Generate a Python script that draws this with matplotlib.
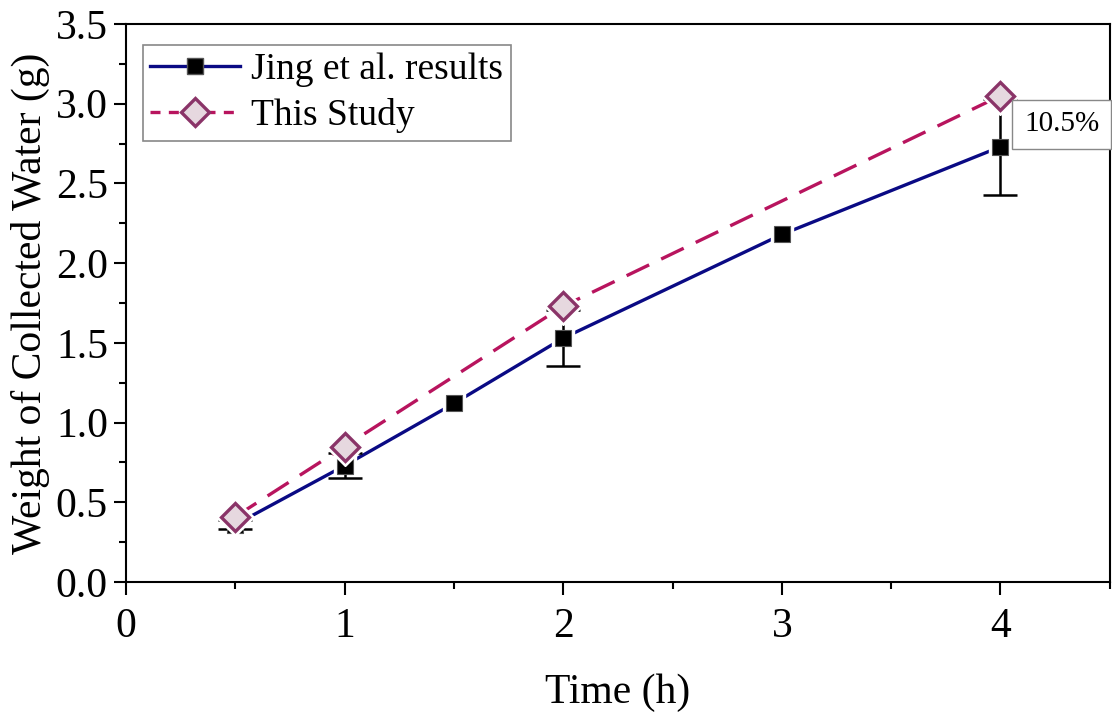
import matplotlib as mpl
import matplotlib.pyplot as plt
import numpy as np
from matplotlib.ticker import MultipleLocator

# values
jing_time = [0.5, 1.0, 1.5, 2.0, 3.0, 4.0]
jing_weight = [0.36, 0.73, 1.12, 1.53, 2.18, 2.73]
err_time = [0.5, 1.0, 2.0, 4.0]
err_weight = [0.36, 0.73, 1.53, 2.73]
err_size = [0.03, 0.08, 0.175, 0.30]

study_time = [0.5, 1.0, 2.0, 4.0]
study_weight = [0.41, 0.85, 1.73, 3.05]

note_text = "10.5%"
note_pos = (4.28, 2.87)

NAVY = "#0A0A84"
CRIMSON = "#B8145E"
DIAMOND_EDGE = "#8A3468"
DIAMOND_FACE = "#E6D8DF"

mpl.rcParams.update(
    {
        "font.family": ["Liberation Serif", "DejaVu Serif"],
        "mathtext.fontset": "stix",
        "axes.linewidth": 1.5,
    }
)

fig = plt.figure(figsize=(11.12, 7.13), dpi=100)
ax = fig.add_axes((0.1133, 0.1837, 0.8847, 0.7826))

# Jing et al.
ax.plot(jing_time, jing_weight, color=NAVY, linewidth=2.4, zorder=2)
ax.plot(jing_time, jing_weight, linestyle="none", marker="s", markersize=16,
        color="white", zorder=3)
ax.errorbar(err_time, err_weight, yerr=err_size, fmt="none", ecolor="black",
            elinewidth=1.8, capsize=12.5, capthick=1.8, zorder=4)
ax.plot(jing_time, jing_weight, linestyle="none", marker="s", markersize=12,
        markerfacecolor="black", markeredgecolor="#555555", markeredgewidth=0.8,
        zorder=5)

# This study
ax.plot(study_time, study_weight, color=CRIMSON, linewidth=2.4,
        dashes=(7.5, 4), zorder=6)
ax.plot(study_time, study_weight, linestyle="none", marker="D", markersize=19,
        color="white", zorder=7)
ax.plot(study_time, study_weight, linestyle="none", marker="D", markersize=14,
        markerfacecolor=DIAMOND_FACE, markeredgecolor=DIAMOND_EDGE,
        markeredgewidth=2.4, zorder=8)

# legend proxies
jing_handle = mpl.lines.Line2D([], [], color=NAVY, linewidth=2.4, marker="s",
                               markersize=12, markerfacecolor="black",
                               markeredgecolor="#555555")
study_handle = mpl.lines.Line2D([], [], color=CRIMSON, linewidth=2.4,
                                dashes=(3, 2.5), marker="D", markersize=14,
                                markerfacecolor=DIAMOND_FACE,
                                markeredgecolor=DIAMOND_EDGE,
                                markeredgewidth=2.4)
legend = ax.legend(
    [jing_handle, study_handle],
    ["Jing et al. results", "This Study"],
    loc="upper left",
    bbox_to_anchor=(0.017, 0.962),
    fontsize=27,
    handlelength=2.4,
    handletextpad=0.3,
    labelspacing=0.3,
    borderpad=0.2,
    borderaxespad=0.0,
    fancybox=False,
    framealpha=1,
    edgecolor="#888888",
)
legend.get_frame().set_linewidth(1.2)

ax.text(
    note_pos[0], note_pos[1], note_text,
    ha="center", va="center", fontsize=21,
    bbox=dict(boxstyle="square,pad=0.4", facecolor="white",
              edgecolor="#888888", linewidth=1.0),
    zorder=9,
)

ax.set_xlim(0, 4.5)
ax.set_ylim(0, 3.5)
ax.xaxis.set_major_locator(MultipleLocator(1))
ax.xaxis.set_minor_locator(MultipleLocator(0.5))
ax.yaxis.set_major_locator(MultipleLocator(0.5))
ax.yaxis.set_minor_locator(MultipleLocator(0.25))
ax.yaxis.set_major_formatter(mpl.ticker.FormatStrFormatter("%.1f"))
ax.tick_params(which="major", direction="out", length=9, width=1.5,
               labelsize=30, top=False, right=False)
ax.tick_params(axis="x", which="major", pad=9)
ax.tick_params(axis="y", which="major", pad=4)
ax.tick_params(which="minor", direction="out", length=5, width=1.5,
               top=False, right=False)

ax.set_xlabel("Time (h)", fontsize=30, labelpad=20)
ax.set_ylabel("Weight of Collected Water (g)", fontsize=30, labelpad=4)

fig.savefig("out.png", dpi=100)
